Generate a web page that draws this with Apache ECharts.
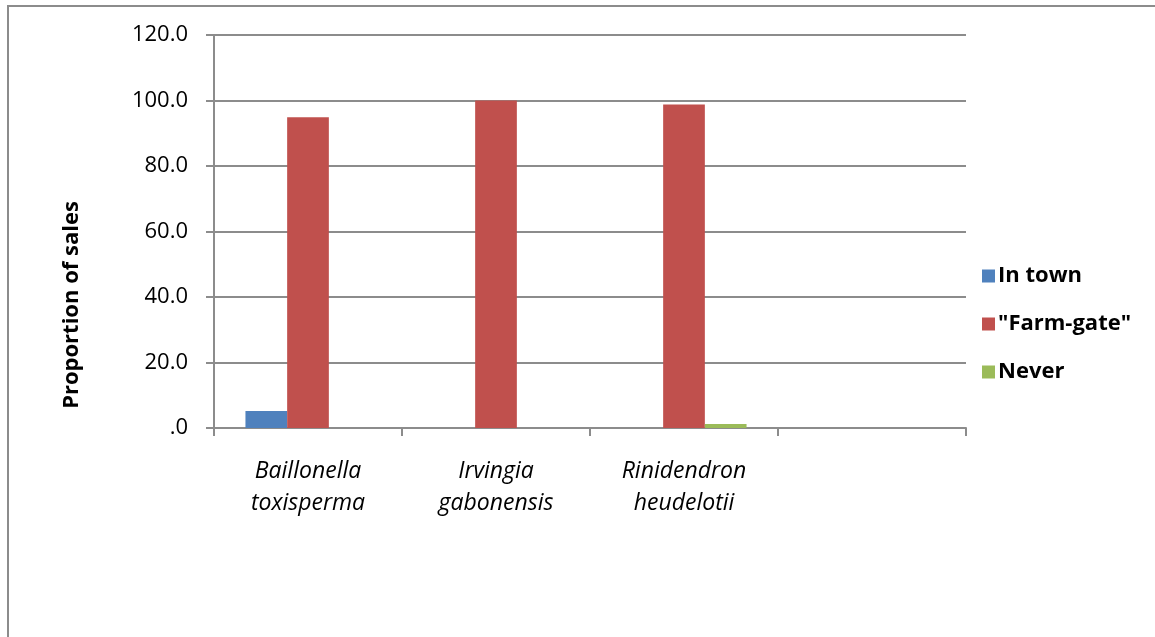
<!DOCTYPE html>
<html>
<head>
<meta charset="utf-8">
<script src="https://cdn.jsdelivr.net/npm/echarts@6/dist/echarts.min.js"></script>
<style>
  html, body { margin: 0; padding: 0; background: #fff; }
  #chart { width: 1155px; height: 637px; }
</style>
</head>
<body>
<div id="chart"></div>
<script>
// Species (the fourth slot is an empty category)
const categories = ['Baillonella\ntoxisperma', 'Irvingia\ngabonensis', 'Rinidendron\nheudelotii', ''];
const seriesNames = ['In town', '"Farm-gate"', 'Never'];
const inTown = [5.2, 0, 0, null];
const farmGate = [94.9, 100, 98.8, null];
const never = [0, 0, 1.2, null];
const colors = ['#4F81BD', '#C0504D', '#9BBB59'];

const font = '"Open Sans", Lato, "Liberation Sans", sans-serif';
const chart = echarts.init(document.getElementById('chart'));

const barSeries = [inTown, farmGate, never].map((data, i) => ({
  name: seriesNames[i],
  type: 'bar',
  data: data,
  barWidth: 41.7,
  barGap: '0%',
  itemStyle: { color: colors[i] },
  emphasis: { disabled: true }
}));

chart.setOption({
  animation: false,
  color: colors,
  grid: { left: 214, right: 189, top: 35, bottom: 209, containLabel: false },
  xAxis: {
    type: 'category',
    data: categories,
    axisLine: { lineStyle: { color: '#8c8c8c', width: 2 } },
    axisTick: { show: true, length: 8, lineStyle: { color: '#8c8c8c', width: 2 } },
    axisLabel: {
      color: '#000', fontFamily: font, fontSize: 23, fontStyle: 'italic',
      lineHeight: 32, margin: 27
    }
  },
  yAxis: {
    type: 'value',
    min: 0, max: 120, interval: 20,
    axisLine: { show: true, lineStyle: { color: '#8c8c8c', width: 2 } },
    axisTick: { show: true, length: 8, lineStyle: { color: '#8c8c8c', width: 2 } },
    splitLine: { lineStyle: { color: '#8c8c8c', width: 2 } },
    axisLabel: {
      color: '#000', fontFamily: font, fontSize: 22, margin: 26,
      formatter: v => v === 0 ? '.0' : v.toFixed(1)
    }
  },
  legend: {
    orient: 'vertical',
    left: 977, top: 260,
    itemWidth: 13, itemHeight: 13, itemGap: 26, icon: 'rect',
    textStyle: {
      color: '#000', fontFamily: font, fontSize: 22, fontWeight: 'bold',
      lineHeight: 22, padding: [0, 0, 0, -2]
    },
    data: seriesNames
  },
  graphic: [
    {
      type: 'rect', silent: true,
      shape: { x: 8, y: 6, width: 1160, height: 700 },
      style: { fill: 'none', stroke: '#8c8c8c', lineWidth: 2 }
    },
    {
      type: 'text', silent: true,
      x: 72, y: 305, rotation: Math.PI / 2,
      style: {
        text: 'Proportion of sales',
        font: 'bold 22px ' + font,
        fill: '#000', align: 'center', verticalAlign: 'middle'
      }
    }
  ],
  series: barSeries
});
</script>
</body>
</html>
